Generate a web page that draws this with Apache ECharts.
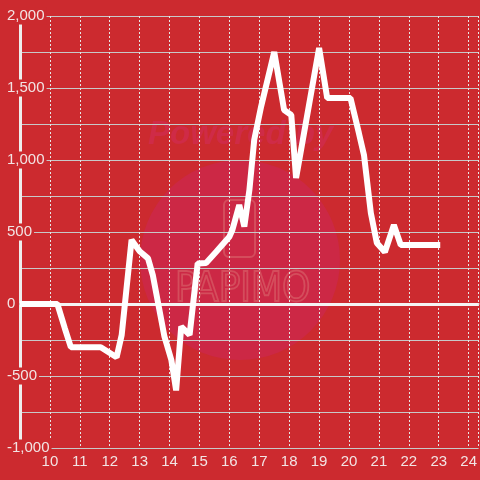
<!DOCTYPE html>
<html>
<head>
<meta charset="utf-8">
<script src="https://cdn.jsdelivr.net/npm/echarts@6/dist/echarts.min.js"></script>
<style>html,body{margin:0;padding:0;background:#cc2a2f}#c{width:480px;height:480px}</style>
</head>
<body>
<div id="c"></div>
<script>
const hours = [9, 10.25, 10.5, 10.7, 11.7, 12.23, 12.4, 12.73, 13.0, 13.28, 13.44, 13.83, 14.06, 14.22, 14.39, 14.67, 14.94, 15.22, 15.56, 16.0, 16.1, 16.33, 16.5, 16.67, 16.83, 17.06, 17.5, 17.83, 18.07, 18.23, 19.0, 19.27, 20.05, 20.33, 20.5, 20.73, 20.93, 21.2, 21.5, 21.73, 23.05];
const values = [0, 0, -170, -300, -300, -370, -215, 445, 366, 317, 201, -227, -389, -600, -157, -215, 282, 285, 363, 467, 514, 688, 537, 792, 1139, 1370, 1750, 1347, 1313, 875, 1778, 1430, 1430, 1187, 1035, 632, 424, 361, 549, 410, 410];
const yTicks = [-1000, -500, 0, 500, 1000, 1500, 2000];

const chart = echarts.init(document.getElementById('c'));
const bg = '#cc2a2f';
chart.setOption({
  backgroundColor: bg,
  animation: false,
  grid: { left: 20, right: 0, top: 16, bottom: 32 },
  graphic: [
    { type: 'circle', z: -5, shape: { cx: 240, cy: 260, r: 100 }, style: { fill: '#cc2845' } },
    { type: 'text', z: -5, left: 148, top: 118, style: { text: 'Powered by', font: 'italic bold 33px "Liberation Sans"', fill: '#cf2b47' } },
    { type: 'rect', z: -5, shape: { x: 224, y: 200, width: 31, height: 57, r: 5 }, style: { fill: 'none', stroke: '#d44d5c', lineWidth: 2 } },
    { type: 'text', z: -5, left: 174, top: 270, style: { text: 'PAPIMO', font: '40px "DejaVu Sans Condensed", "Liberation Sans"', fill: 'none', stroke: '#d44d5c', lineWidth: 1.8 } }
  ],
  xAxis: {
    type: 'value', min: 9, max: 24.3333, interval: 1,
    axisLine: { show: true, lineStyle: { color: '#d0d0d0', width: 2 } },
    axisTick: { show: false },
    axisLabel: { showMinLabel: false, showMaxLabel: false, color: '#f2e4e4', fontSize: 15, fontFamily: 'Liberation Sans', margin: 6 },
    splitLine: { show: true, lineStyle: { color: '#e6e6e6', width: 1, type: [2, 2] } }
  },
  yAxis: {
    type: 'value', min: -1000, max: 2000, interval: 250,
    axisLine: { show: true, onZero: false, lineStyle: { color: '#eeeeee', width: 3 } },
    axisTick: { show: false },
    axisLabel: {
      color: '#f2e4e4', fontSize: 15, fontFamily: 'Liberation Sans', align: 'left', margin: 15,
      backgroundColor: bg, padding: [1, 2],
      formatter: v => yTicks.includes(v) ? v.toLocaleString('en-US') : ''
    },
    splitLine: { show: true, lineStyle: { color: '#c8c8c8', width: 1 } }
  },
  series: [{
    type: 'line',
    data: hours.map((h, i) => [h, values[i]]),
    showSymbol: false,
    lineStyle: { color: '#ffffff', width: 6 },
    itemStyle: { color: '#ffffff' },
    z: 5,
    markLine: {
      silent: true, symbol: 'none', label: { show: false },
      lineStyle: { color: '#f4f4f4', width: 3, type: 'solid' },
      data: [{ yAxis: 0 }]
    }
  }]
});
</script>
</body>
</html>
